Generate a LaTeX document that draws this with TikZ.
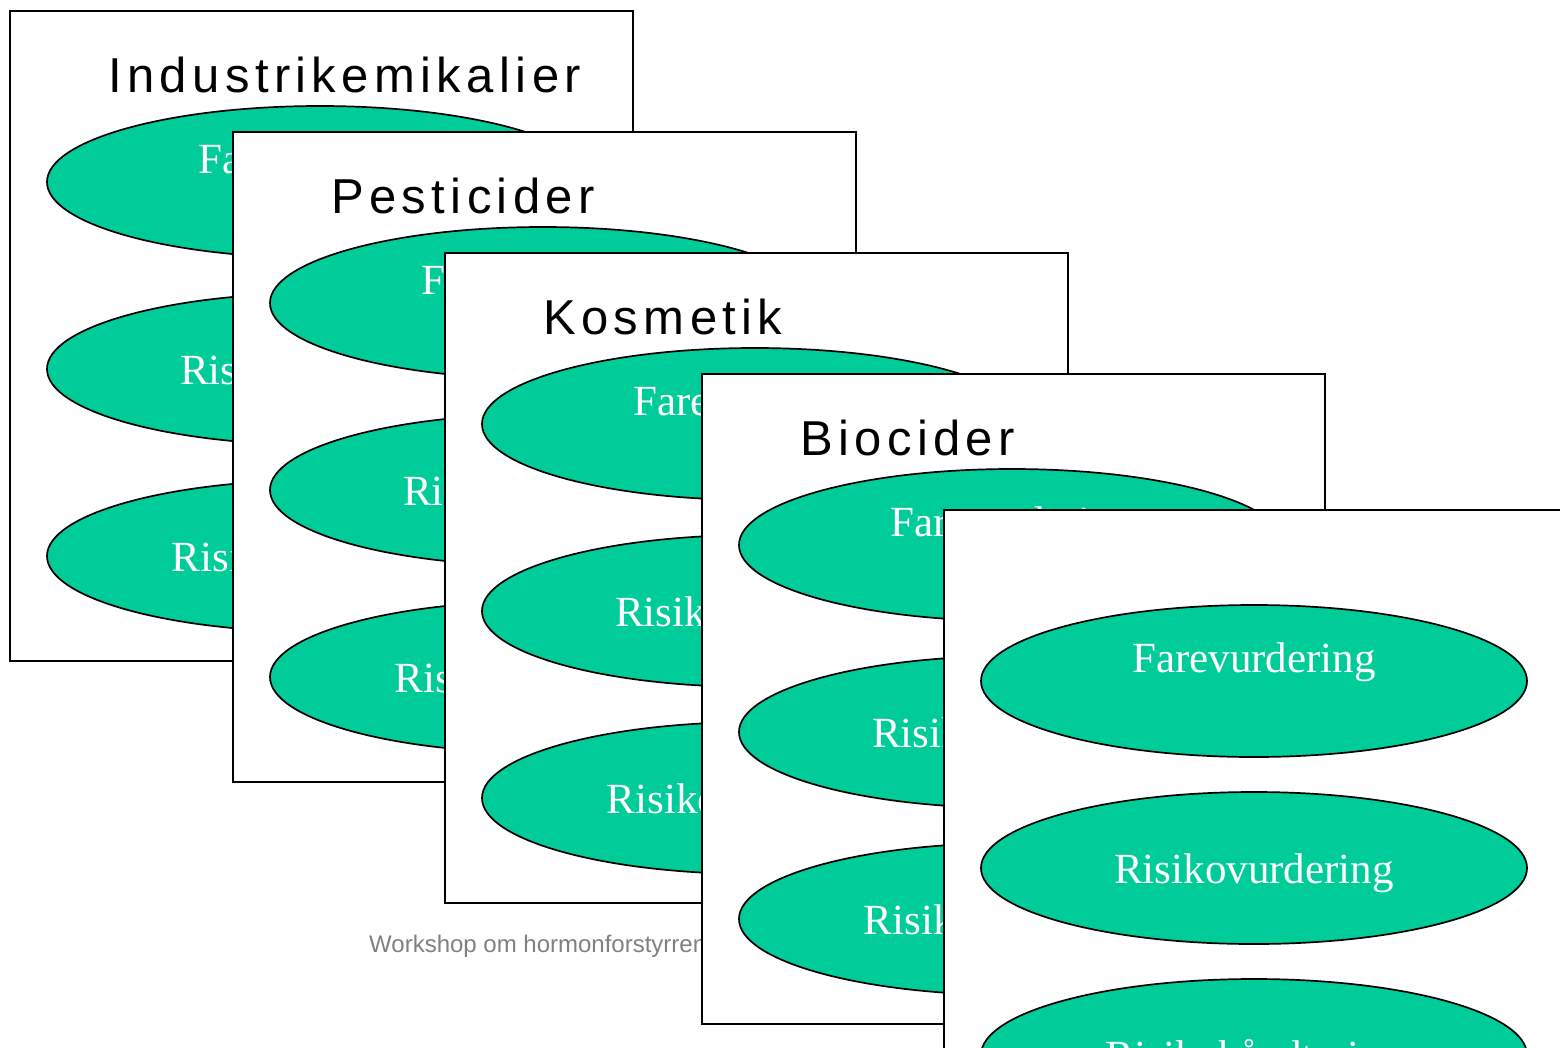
\documentclass[tikz,border=0pt]{standalone}
\usepackage{fontspec}
\setmainfont{Liberation Serif}
\setsansfont{Liberation Sans}
\newfontfamily\cardtitlefont[LetterSpace=11]{Liberation Sans}
\usetikzlibrary{shapes.geometric}
\definecolor{ovalgreen}{RGB}{0,204,153}
\definecolor{footergray}{RGB}{128,128,128}
\newcommand\drawcard[4]{%
  \node[cardbox] (card#1) at (#2,#3) {};
  \node[cardtitle] (title#1) at (#2+99,#3+82) {#4};
  \node[oval] (fare#1) at (#2+311,#3+172) {};
  \node[ovaltext] (faretext#1) at (#2+311,#3+163) {Farevurdering};
  \node[oval] (risiko#1) at (#2+311,#3+359) {};
  \node[ovaltext] (risikotext#1) at (#2+311,#3+374) {Risikovurdering};
  \node[oval] (haandt#1) at (#2+311,#3+546) {};
  \node[ovaltext] (haandttext#1) at (#2+311,#3+561) {Risikohåndtering};
}
\begin{document}
\begin{tikzpicture}[x=1pt,y=-1pt,
  cardbox/.style={draw=black,fill=white,line width=1.5pt,minimum width=623pt,minimum height=650pt,inner sep=0pt,anchor=north west},
  oval/.style={ellipse,draw=black,fill=ovalgreen,line width=1.7pt,minimum width=546pt,minimum height=152pt,inner sep=0pt},
  ovaltext/.style={text=white,font=\fontsize{43}{43}\selectfont,anchor=base,inner sep=0pt},
  cardtitle/.style={font=\cardtitlefont\fontsize{49}{49}\selectfont,anchor=base west,inner sep=0pt},
  footer/.style={text=footergray,font=\sffamily\fontsize{24}{24}\selectfont,anchor=base west,inner sep=0pt}]
\useasboundingbox (0,0) rectangle (1560,1047);
\clip (0,0) rectangle (1560,1047);
\drawcard{1}{9}{10}{Industrikemikalier}
\drawcard{2}{232}{131}{Pesticider}
\drawcard{3}{444}{252}{Kosmetik}
\node[footer] (footertext) at (369,952) {Workshop om hormonforstyrrende stoffer};
\drawcard{4}{701}{373}{Biocider}
\drawcard{5}{943}{509}{}
\end{tikzpicture}
\end{document}
